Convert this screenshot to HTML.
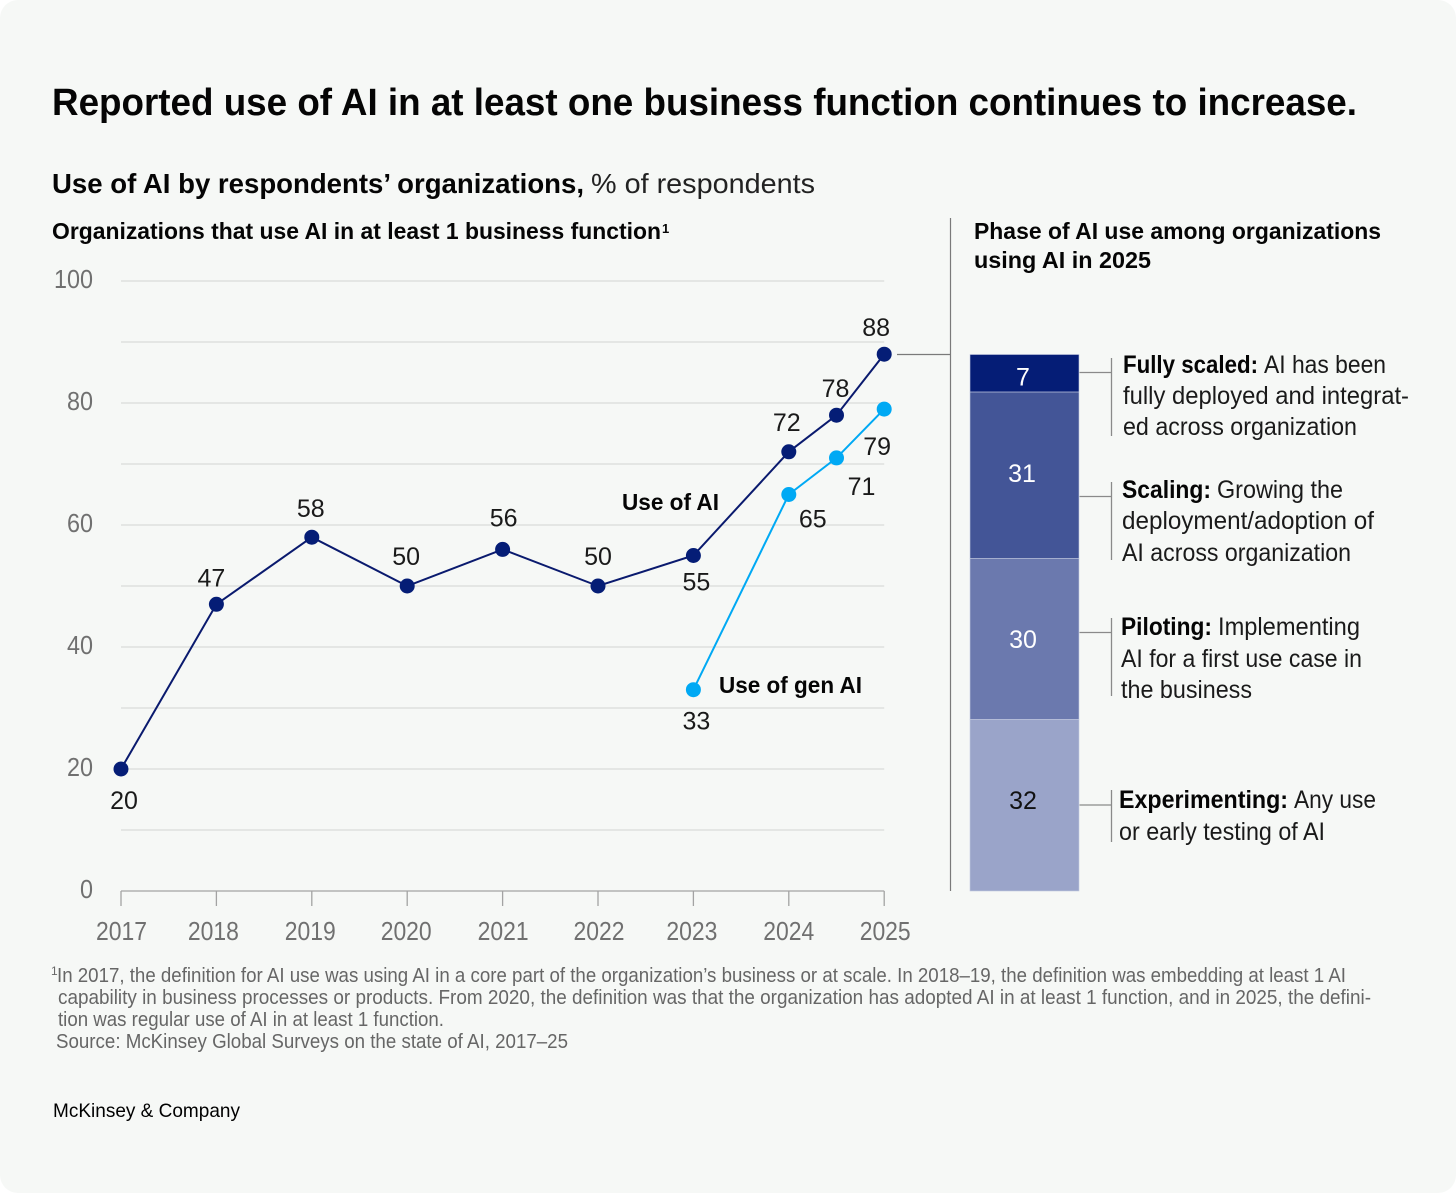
<!DOCTYPE html>
<html lang="en">
<head>
<meta charset="utf-8">
<title>Reported use of AI</title>
<style>
html,body{margin:0;padding:0;background:#fff;width:1456px;height:1193px;overflow:hidden}
svg{display:block}
text{font-family:"Liberation Sans",sans-serif;fill:#111}
.b{font-weight:700;fill:#050505}
.note{font-size:20px;fill:#666}
.ann{font-size:25px;fill:#1a1a1a}
.annb{font-size:25px;font-weight:700;fill:#050505}
.tick{font-size:26px;fill:#707070}
.val{font-size:25px;fill:#1a1a1a}
</style>
</head>
<body>
<svg id="chart" xmlns="http://www.w3.org/2000/svg" width="1456" height="1193" viewBox="0 0 1456 1193">
  <rect x="0" y="0" width="1456" height="1193" rx="18" fill="#f6f8f6"/>

  <text class="b" x="52" y="115" font-size="38" textLength="1305" lengthAdjust="spacingAndGlyphs">Reported use of AI in at least one business function continues to increase.</text>
  <text class="b" x="52" y="193" font-size="28" textLength="532" lengthAdjust="spacingAndGlyphs">Use of AI by respondents’ organizations,</text>
  <text x="591" y="193" font-size="28" textLength="224" lengthAdjust="spacingAndGlyphs" style="fill:#222">% of respondents</text>

  <text class="b" x="52" y="239" font-size="23" textLength="609" lengthAdjust="spacingAndGlyphs">Organizations that use AI in at least 1 business function</text>
  <text class="b" x="662" y="233" font-size="13">1</text>
  <text class="b" x="974" y="239" font-size="23" textLength="407" lengthAdjust="spacingAndGlyphs">Phase of AI use among organizations</text>
  <text class="b" x="974" y="268" font-size="23" textLength="177" lengthAdjust="spacingAndGlyphs">using AI in 2025</text>

  <line x1="950.5" y1="218" x2="950.5" y2="891" stroke="#7a7a7a" stroke-width="1.2"/>
  <line x1="897" y1="354.5" x2="950" y2="354.5" stroke="#7a7a7a" stroke-width="1.2"/>

  <g id="line-chart"></g>
  <g id="stack-chart"></g>

  <text class="b" x="622" y="510" font-size="23" textLength="97" lengthAdjust="spacingAndGlyphs">Use of AI</text>
  <text class="b" x="719" y="693" font-size="23" textLength="143" lengthAdjust="spacingAndGlyphs">Use of gen AI</text>

  <g>
    <path d="M1079.5 372.5H1111.5M1111.5 358V436" fill="none" stroke="#8a8a8a" stroke-width="1.3"/>
    <text class="annb" x="1123" y="373" textLength="135" lengthAdjust="spacingAndGlyphs">Fully scaled:</text>
    <text class="ann" x="1264" y="373" textLength="122" lengthAdjust="spacingAndGlyphs">AI has been</text>
    <text class="ann" x="1123" y="404" textLength="286" lengthAdjust="spacingAndGlyphs">fully deployed and integrat-</text>
    <text class="ann" x="1123" y="435" textLength="234" lengthAdjust="spacingAndGlyphs">ed across organization</text>
  </g>
  <g>
    <path d="M1079.5 496.5H1111.5M1111.5 482V560" fill="none" stroke="#8a8a8a" stroke-width="1.3"/>
    <text class="annb" x="1122" y="498" textLength="89" lengthAdjust="spacingAndGlyphs">Scaling:</text>
    <text class="ann" x="1217" y="498" textLength="126" lengthAdjust="spacingAndGlyphs">Growing the</text>
    <text class="ann" x="1122" y="529" textLength="252" lengthAdjust="spacingAndGlyphs">deployment/adoption of</text>
    <text class="ann" x="1122" y="561" textLength="229" lengthAdjust="spacingAndGlyphs">AI across organization</text>
  </g>
  <g>
    <path d="M1079.5 632.5H1111.5M1111.5 618V696" fill="none" stroke="#8a8a8a" stroke-width="1.3"/>
    <text class="annb" x="1121" y="635" textLength="91" lengthAdjust="spacingAndGlyphs">Piloting:</text>
    <text class="ann" x="1218" y="635" textLength="142" lengthAdjust="spacingAndGlyphs">Implementing</text>
    <text class="ann" x="1121" y="667" textLength="241" lengthAdjust="spacingAndGlyphs">AI for a first use case in</text>
    <text class="ann" x="1121" y="698" textLength="131" lengthAdjust="spacingAndGlyphs">the business</text>
  </g>
  <g>
    <path d="M1079.5 805H1111.5M1111.5 790V842" fill="none" stroke="#8a8a8a" stroke-width="1.3"/>
    <text class="annb" x="1119" y="808" textLength="169" lengthAdjust="spacingAndGlyphs">Experimenting:</text>
    <text class="ann" x="1294" y="808" textLength="82" lengthAdjust="spacingAndGlyphs">Any use</text>
    <text class="ann" x="1119" y="840" textLength="206" lengthAdjust="spacingAndGlyphs">or early testing of AI</text>
  </g>

  <g>
    <text x="51" y="975" font-size="12" style="fill:#666">1</text>
    <text class="note" x="57" y="982" textLength="1289" lengthAdjust="spacingAndGlyphs">In 2017, the definition for AI use was using AI in a core part of the organization’s business or at scale. In 2018–19, the definition was embedding at least 1 AI</text>
    <text class="note" x="58" y="1004" textLength="1313" lengthAdjust="spacingAndGlyphs">capability in business processes or products. From 2020, the definition was that the organization has adopted AI in at least 1 function, and in 2025, the defini-</text>
    <text class="note" x="58" y="1026" textLength="386" lengthAdjust="spacingAndGlyphs">tion was regular use of AI in at least 1 function.</text>
    <text class="note" x="56" y="1048" textLength="512" lengthAdjust="spacingAndGlyphs">Source: McKinsey Global Surveys on the state of AI, 2017–25</text>
  </g>
  <text x="53" y="1117" font-size="19.5" textLength="187" lengthAdjust="spacingAndGlyphs" style="fill:#000">McKinsey &amp; Company</text>
</svg>

<script>
// ---- Chart data ----
const aiTimes = [2017, 2018, 2019, 2020, 2021, 2022, 2023, 2024, 2024.5, 2025];
const aiValues = [20, 47, 58, 50, 56, 50, 55, 72, 78, 88];
const genAiTimes = [2023, 2024, 2024.5, 2025];
const genAiValues = [33, 65, 71, 79];
const xTickLabels = [2017, 2018, 2019, 2020, 2021, 2022, 2023, 2024, 2025];
const yGridValues = [0, 10, 20, 30, 40, 50, 60, 70, 80, 90, 100];
const yTickLabels = [0, 20, 40, 60, 80, 100];
const stackPhases = ['fully-scaled', 'scaling', 'piloting', 'experimenting'];
const stackValues = [7, 31, 30, 32];

// ---- Layout (label nudges relative to each mark, not data) ----
const aiLabelNudgeX = [3, -5, -1, -1, 1, 0, 3, -2, -1, -8];
const aiLabelNudgeY = [40, -18, -20, -21, -23, -21, 35, -21, -18, -18];
const genLabelNudgeX = [3, 24, 25, -7];
const genLabelNudgeY = [40, 33, 37, 46];
const xTickNudge = [0.5, -3, -1.5, -1, 0.5, 1, -1.5, 0, 1];
const stackLabelNudgeX = [0, -1, 0, 0];
const stackLabelNudgeY = [12, 7, 9, 4];
const stackFills = ['#051d76', '#435597', '#6b79ae', '#9aa4c9'];
const stackInk = ['#ffffff', '#ffffff', '#ffffff', '#111111'];

const NS = 'http://www.w3.org/2000/svg';
const xScale = t => 121 + (t - 2017) * 95.4;
const yScale = v => 891 - v * 6.1;
const stackTop = 354.5;
const stackUnit = 536.5 / stackValues.reduce((a, b) => a + b, 0);

function make(parent, tag, attrs, content) {
  const el = document.createElementNS(NS, tag);
  for (const k in attrs) el.setAttribute(k, attrs[k]);
  if (content !== undefined) el.textContent = content;
  parent.appendChild(el);
  return el;
}

const lineRoot = document.getElementById('line-chart');
const stackRoot = document.getElementById('stack-chart');

yGridValues.forEach(v => {
  if (v === 0) return;
  const el = make(lineRoot, 'line', {x1: xScale(2017), x2: xScale(2025), y1: yScale(v), y2: yScale(v), stroke: '#d9dbd9', 'stroke-width': 1.3});
  
  
});

const axisLine = make(lineRoot, 'line', {x1: xScale(2017), x2: xScale(2025), y1: yScale(0), y2: yScale(0), stroke: '#a3a3a3', 'stroke-width': 1.3});



yTickLabels.forEach(v => {
  const s = String(v);
  const el = make(lineRoot, 'text', {x: 93, y: yScale(v) + 7, 'text-anchor': 'end', class: 'tick', textLength: s.length * 13, lengthAdjust: 'spacingAndGlyphs'}, s);
  
  
});

xTickLabels.forEach((t, i) => {
  const tick = make(lineRoot, 'line', {x1: xScale(t), x2: xScale(t), y1: yScale(0), y2: yScale(0) + 15, stroke: '#a3a3a3', 'stroke-width': 1.3});
  
  
  const label = make(lineRoot, 'text', {x: xScale(t) - 25.5 + xTickNudge[i], y: 940, class: 'tick', textLength: 51, lengthAdjust: 'spacingAndGlyphs'}, String(t));
  
  
});

function drawSeries(name, times, values, stroke, dot, nudgeX, nudgeY) {
  const pts = times.map((t, i) => xScale(t) + ',' + yScale(values[i])).join(' ');
  const line = make(lineRoot, 'polyline', {points: pts, fill: 'none', stroke: stroke, 'stroke-width': 2});
  
  
  times.forEach((t, i) => {
    const c = make(lineRoot, 'circle', {cx: xScale(t), cy: yScale(values[i]), r: 7.5, fill: dot});
    
    
    const l = make(lineRoot, 'text', {x: xScale(t) + nudgeX[i], y: yScale(values[i]) + nudgeY[i], 'text-anchor': 'middle', class: 'val'}, String(values[i]));
    
    
  });
}

drawSeries('ai-use', aiTimes, aiValues, '#0a1a6e', '#051d76', aiLabelNudgeX, aiLabelNudgeY);
drawSeries('gen-ai-use', genAiTimes, genAiValues, '#00a9f4', '#00a9f4', genLabelNudgeX, genLabelNudgeY);

let cursor = stackTop;
stackValues.forEach((v, i) => {
  const h = v * stackUnit;
  const seg = make(stackRoot, 'rect', {x: 970, y: cursor, width: 109, height: h, fill: stackFills[i], stroke: '#c4cbe0', 'stroke-width': 0.6});
  
  
  const lab = make(stackRoot, 'text', {x: 1023 + stackLabelNudgeX[i], y: cursor + h / 2 + stackLabelNudgeY[i], 'text-anchor': 'middle', class: 'val', style: 'fill:' + stackInk[i]}, String(v));
  
  
  cursor += h;
});
</script>
</body>
</html>
